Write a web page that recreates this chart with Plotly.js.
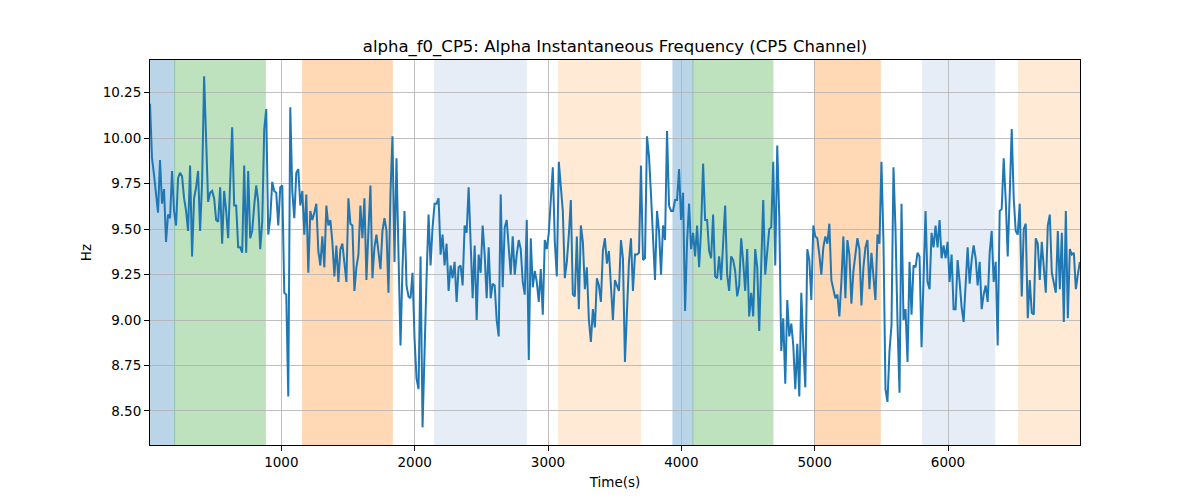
<!DOCTYPE html>
<html>
<head>
<meta charset="utf-8">
<script src="https://cdn.plot.ly/plotly-3.0.1.min.js"></script>
<style>
  html, body { margin: 0; padding: 0; background: #fff; }
  #chart { width: 1200px; height: 500px; }
</style>
</head>
<body>
<div id="chart"></div>
<script>
// alpha f0 samples for the CP5 channel (Hz), one every samplePeriod seconds
const sampleStart = 15;
const samplePeriod = 15.03;

const hzPart1 = [
    10.19, 9.89, 9.80, 9.70, 9.59, 9.88, 9.64, 9.72, 9.43, 9.58,
    9.56, 9.82, 9.60, 9.52, 9.78, 9.81, 9.79, 9.67, 9.60, 9.49,
    9.85, 9.35, 9.67, 9.73, 9.82, 9.49, 9.76, 10.34, 9.95, 9.65,
    9.70, 9.71, 9.67, 9.55, 9.54, 9.73, 9.42, 9.71, 9.60, 9.45,
    9.76, 10.06, 9.63, 9.63, 9.40, 9.40, 9.37, 9.85, 9.37, 9.82,
    9.45, 9.49, 9.63, 9.74, 9.65, 9.39, 9.54, 10.05, 10.16, 9.47,
    9.56, 9.76, 9.71, 9.70, 9.52, 9.73, 9.74, 9.15, 9.14, 8.58,
    10.17, 9.71, 9.56, 9.81, 9.83, 9.63, 9.71
];
const hzPart2 = [
    9.47, 9.69, 9.26, 9.60, 9.55, 9.59, 9.64, 9.38, 9.30, 9.46,
    9.29, 9.63, 9.52, 9.55, 9.43, 9.24, 9.41, 9.21, 9.39, 9.42,
    9.32, 9.21, 9.67, 9.53, 9.52, 9.16, 9.29, 9.36, 9.63, 9.45,
    9.67, 9.22, 9.49, 9.74, 9.23, 9.40, 9.47, 9.36, 9.28, 9.49,
    9.56, 9.49, 9.15, 9.70, 10.01, 9.32, 9.89, 9.36, 8.86, 9.29,
    9.60, 9.19, 9.13, 9.12, 9.26, 8.90, 8.68, 8.62, 9.35, 8.41,
    8.90, 9.23, 9.58, 9.30, 9.51, 9.64, 9.64, 9.67, 9.36, 9.47,
    9.30, 9.42, 9.16, 9.30, 9.23
];
const hzPart3 = [
    9.32, 9.10, 9.29, 9.30, 9.19, 9.52, 9.48, 9.73, 9.36, 9.12,
    9.41, 9.00, 9.36, 9.26, 9.52, 9.36, 9.12, 9.40, 9.12, 9.20,
    9.19, 9.00, 8.91, 9.69, 9.18, 9.51, 9.55, 9.38, 9.25, 9.46,
    9.25, 9.36, 9.44, 9.39, 9.21, 9.14, 9.55, 8.78, 9.45, 9.18,
    9.27, 9.21, 9.10, 9.28, 9.03, 9.44, 9.39, 9.48, 9.65, 9.84,
    9.43, 9.24, 9.87, 9.74, 9.60, 9.23, 9.32, 9.47, 9.66, 9.14,
    9.13, 9.46, 9.06, 9.52, 9.43, 9.17, 9.29, 9.00, 8.88, 9.06,
    8.96, 9.23, 9.19, 9.10, 9.38, 9.45, 9.31, 9.38
];
const hzPart4 = [
    9.19, 9.00, 9.22, 9.19, 9.16, 9.44, 9.34, 8.77, 9.06, 9.32,
    9.45, 9.16, 9.36, 9.36, 9.37, 9.85, 9.33, 9.34, 10.01, 9.90,
    9.69, 9.43, 9.22, 9.60, 9.49, 9.25, 9.52, 9.44, 10.04, 9.63,
    9.60, 9.60, 9.66, 9.66, 9.83, 9.55, 9.70, 9.05, 9.43, 9.64,
    9.39, 9.48, 9.35, 9.52, 9.29, 9.50, 9.86, 9.55, 9.55, 9.38,
    9.34, 9.58, 9.24, 9.23, 9.35, 9.22, 9.43, 9.63, 9.25, 9.16,
    9.35, 9.33, 9.27, 9.13, 9.19, 9.45, 9.32, 9.16, 9.39, 9.02,
    9.15, 9.02, 9.39, 9.29, 8.94, 9.32, 9.66
];
const hzPart5 = [
    9.25, 9.40, 9.50, 9.51, 9.87, 9.30, 9.96, 9.57, 8.83, 9.01,
    8.65, 9.11, 8.91, 8.98, 8.86, 8.62, 8.87, 8.58, 9.15, 8.86,
    8.63, 9.39, 9.33, 9.11, 9.52, 9.46, 9.45, 9.36, 9.25, 9.40,
    9.46, 9.42, 9.53, 9.22, 9.16, 9.12, 9.14, 9.02, 9.21, 9.46,
    9.12, 9.44, 9.36, 9.09, 9.27, 9.36, 9.45, 9.39, 9.08, 9.29,
    9.40, 9.44, 9.17, 9.37, 9.26, 9.11, 9.47, 9.42, 9.87, 9.43,
    8.62, 8.55, 8.83, 8.97, 9.84, 9.50, 8.99, 8.60, 9.64, 9.00,
    9.06, 8.77, 9.32, 9.03, 9.30, 9.29, 9.37, 9.35
];
const hzPart6 = [
    8.85, 9.21, 9.60, 9.21, 9.17, 9.48, 9.40, 9.52, 9.40, 9.55,
    9.34, 9.41, 9.34, 9.43, 9.21, 9.36, 9.06, 9.06, 9.33, 9.21,
    9.07, 8.99, 9.21, 9.40, 9.20, 9.33, 9.41, 9.34, 9.19, 9.32,
    9.06, 9.14, 9.19, 9.10, 9.37, 9.49, 9.21, 9.32, 8.86, 9.60,
    9.61, 9.89, 9.66, 9.35, 9.69, 10.05, 9.67, 9.49, 9.47, 9.64,
    9.13, 9.50, 9.53, 9.01, 9.22, 9.04, 9.03, 9.45, 9.42, 9.22,
    9.43, 9.27, 9.15, 9.52, 9.58, 9.26, 9.21, 9.15, 9.49, 9.17,
    9.48, 8.99, 9.60, 9.01, 9.39, 9.36, 9.37, 9.17, 9.25, 9.32
];

// labelled segments (seconds) and their kind
const spanStart = [15, 200, 1160, 2150, 3080, 3937, 4087, 5000, 5810, 6530];
const spanEnd   = [200, 880, 1832, 2837, 3693, 4087, 4687, 5492, 6350, 6990];
const spanKind  = ['a', 'b', 'c', 'd', 'e', 'a', 'b', 'c', 'd', 'e'];

const yTicks = [8.50, 8.75, 9.00, 9.25, 9.50, 9.75, 10.00, 10.25];
const xTicks = [1000, 2000, 3000, 4000, 5000, 6000];

const hz = [].concat(hzPart1, hzPart2, hzPart3, hzPart4, hzPart5, hzPart6);
const timeS = hz.map((_, i) => sampleStart + i * samplePeriod);

const kindColor = { a: '#1f77b4', b: '#2ca02c', c: '#ff7f0e', d: '#aec7e8', e: '#ffbb78' };

const shapes = spanStart.map((s, i) => ({
    type: 'rect',
    xref: 'x', yref: 'paper',
    x0: s, x1: spanEnd[i], y0: 0, y1: 1,
    fillcolor: kindColor[spanKind[i]],
    opacity: 0.3,
    line: { color: kindColor[spanKind[i]], width: 1 },
    layer: 'below'
}));

const trace = {
    x: timeS,
    y: hz,
    type: 'scatter',
    mode: 'lines',
    line: { color: '#1f77b4', width: 2 },
    hoverinfo: 'x+y'
};

const font = 'DejaVu Sans, sans-serif';

const layout = {
    width: 1200,
    height: 500,
    margin: { l: 150, r: 120, t: 60, b: 55 },
    paper_bgcolor: '#ffffff',
    plot_bgcolor: '#ffffff',
    font: { family: font, size: 13.5, color: '#000' },
    showlegend: false,
    title: {
        text: 'alpha_f0_CP5: Alpha Instantaneous Frequency (CP5 Channel)',
        font: { family: font, size: 16.5, color: '#000' },
        x: 0.5125, xref: 'container',
        y: 0.908, yref: 'container', yanchor: 'middle'
    },
    xaxis: {
        range: [15, 6990],
        tickvals: xTicks,
        ticktext: xTicks.map(String),
        ticks: 'outside', ticklen: 5, tickwidth: 1, tickcolor: '#000',
        showgrid: true, gridcolor: '#b0b0b0', gridwidth: 0.8,
        showline: true, mirror: true, linecolor: '#000', linewidth: 1,
        zeroline: false,
        title: { text: 'Time(s)', font: { family: font, size: 13.5 }, standoff: 8 }
    },
    yaxis: {
        range: [8.313, 10.43],
        tickvals: yTicks,
        ticktext: yTicks.map(v => v.toFixed(2)),
        ticks: 'outside', ticklen: 5, tickwidth: 1, tickcolor: '#000',
        showgrid: true, gridcolor: '#b0b0b0', gridwidth: 0.8,
        showline: true, mirror: true, linecolor: '#000', linewidth: 1,
        zeroline: false,
        title: { text: 'Hz', font: { family: font, size: 13.5 }, standoff: 7 }
    },
    shapes: shapes
};

Plotly.newPlot('chart', [trace], layout, { displayModeBar: false, staticPlot: true });
</script>
</body>
</html>
